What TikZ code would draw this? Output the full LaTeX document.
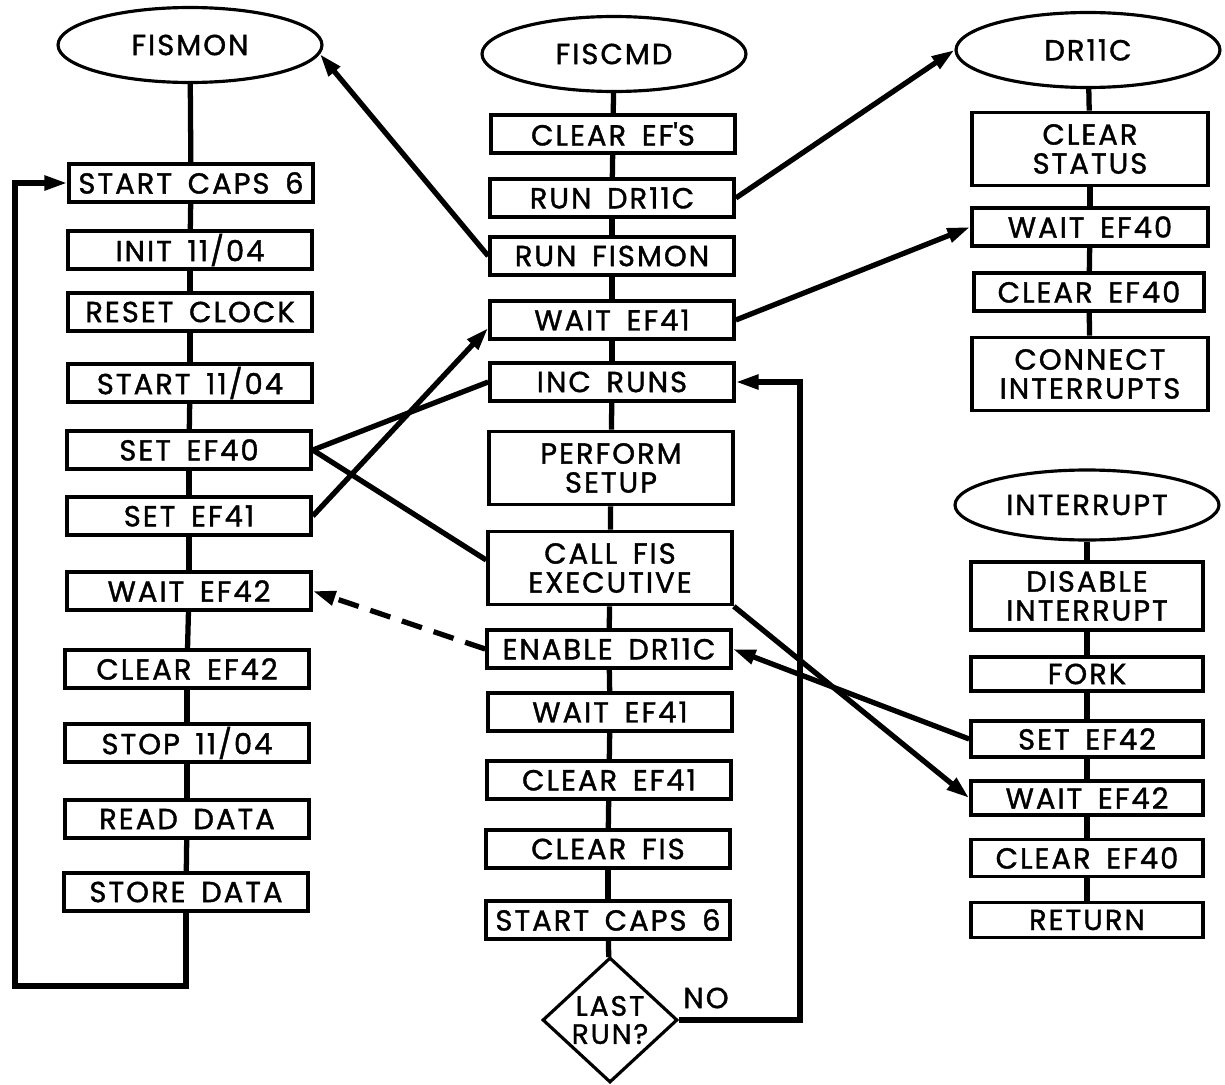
\documentclass[tikz,border=0pt]{standalone}
\usepackage{fontspec}
\setmainfont{Poppins}[LetterSpace=7,WordSpace=1.6,FakeBold=1.3]
\usetikzlibrary{shapes.geometric,arrows.meta,calc}

\tikzset{
  stepbox/.style={draw, line width=2.1pt, fill=white, minimum width=4.88cm,
    minimum height=0.76cm, inner sep=1pt, align=center,
    font=\fontsize{16.5}{16.5}\selectfont},
  tallbox/.style={stepbox, minimum height=1.46cm},
  progname/.style={draw, ellipse, line width=1.8pt, minimum width=5.28cm,
    minimum height=1.5cm, inner sep=0pt, font=\fontsize{16.5}{16.5}\selectfont},
  test/.style={draw, diamond, line width=1.8pt, minimum width=2.7cm,
    minimum height=2.5cm, inner sep=0pt, align=center,
    font=\fontsize{16}{16}\selectfont},
  link/.style={line width=3pt},
  flow/.style={line width=3pt, -{Triangle[length=13pt,width=8pt]}},
}

\begin{document}
\begin{tikzpicture}[x=0.02cm, y=-0.02cm]
  \useasboundingbox (0,0) rectangle (1225,1085);

  % FISMON
  \node[progname] (fismon) at (190,45) {FISMON};
  \node[stepbox] (capsa) at (191,183) {START CAPS 6};
  \node[stepbox] (init) at (190,250) {INIT 11/04};
  \node[stepbox] (resetclk) at (190,312) {RESET CLOCK};
  \node[stepbox] (startpdp) at (190,383) {START 11/04};
  \node[stepbox] (setforty) at (189,450) {SET EF40};
  \node[stepbox] (setfone) at (189,516) {SET EF41};
  \node[stepbox] (waitftwo) at (189,591) {WAIT EF42};
  \node[stepbox] (clrftwo) at (187,669) {CLEAR EF42};
  \node[stepbox] (stoppdp) at (187,743) {STOP 11/04};
  \node[stepbox] (readdat) at (187,819) {READ DATA};
  \node[stepbox] (storedat) at (186,892) {STORE DATA};
  \coordinate (loopa) at (186,986);
  \coordinate (loopb) at (15,986);
  \coordinate (loopc) at (15,183);

  % FISCMD
  \node[progname] (fiscmd) at (614,54) {FISCMD};
  \node[stepbox] (clrefs) at (613,134) {CLEAR EF\textquotesingle S};
  \node[stepbox] (rundr) at (612,198) {RUN DR11C};
  \node[stepbox] (runfis) at (612,256) {RUN FISMON};
  \node[stepbox] (waitfone) at (612,320) {WAIT EF41};
  \node[stepbox] (incruns) at (612,382) {INC RUNS};
  \node[tallbox] (perform) at (611,468) {PERFORM\\SETUP};
  \node[tallbox] (callfis) at (610,568) {CALL FIS\\EXECUTIVE};
  \node[stepbox] (enable) at (609,649) {ENABLE DR11C};
  \node[stepbox] (waitfonb) at (610,712) {WAIT EF41};
  \node[stepbox] (clrfone) at (609,780) {CLEAR EF41};
  \node[stepbox] (clrfis) at (608,849) {CLEAR FIS};
  \node[stepbox] (capsb) at (608,920) {START CAPS 6};
  \node[test] (lastrun) at (610,1020) {LAST\\RUN?};
  \node[font=\fontsize{16.5}{16.5}\selectfont] (no) at (706,998) {NO};
  \coordinate (loopd) at (800,1020);
  \coordinate (loope) at (800,382);

  % DR11C
  \node[progname] (dr) at (1088,50) {DR11C};
  \node[tallbox, minimum width=4.72cm] (clrstat) at (1090,149) {CLEAR\\STATUS};
  \node[stepbox, minimum width=4.72cm] (waitforty) at (1090,227) {WAIT EF40};
  \node[stepbox, minimum width=4.6cm] (clrforty) at (1089,292) {CLEAR EF40};
  \node[tallbox, minimum width=4.72cm] (connect) at (1090,374) {CONNECT\\INTERRUPTS};

  % INTERRUPT
  \node[progname, minimum height=1.4cm] (intr) at (1087,505) {INTERRUPT};
  \node[tallbox, minimum width=4.64cm, minimum height=1.36cm] (disable) at (1087,596) {DISABLE\\INTERRUPT};
  \node[stepbox, minimum width=4.64cm, minimum height=0.68cm] (fork) at (1087,674) {FORK};
  \node[stepbox, minimum width=4.64cm, minimum height=0.72cm] (setftwo) at (1087,739) {SET EF42};
  \node[stepbox, minimum width=4.64cm, minimum height=0.68cm] (iwait) at (1087,798) {WAIT EF42};
  \node[stepbox, minimum width=4.64cm, minimum height=0.74cm] (iclr) at (1087,858) {CLEAR EF40};
  \node[stepbox, minimum width=4.64cm, minimum height=0.7cm] (ret) at (1087,920) {RETURN};

  % straight runs
  \draw[link] (fismon) -- (capsa);
  \draw[link] (capsa) -- (init);
  \draw[link] (init) -- (resetclk);
  \draw[link] (resetclk) -- (startpdp);
  \draw[link] (startpdp) -- (setforty);
  \draw[link] (setforty) -- (setfone);
  \draw[link] (setfone) -- (waitftwo);
  \draw[link] (waitftwo) -- (clrftwo);
  \draw[link] (clrftwo) -- (stoppdp);
  \draw[link] (stoppdp) -- (readdat);
  \draw[link] (readdat) -- (storedat);
  \draw[flow] (storedat) -- (loopa) -- (loopb) -- (loopc) -- (capsa.west);

  \draw[link] (fiscmd) -- (clrefs);
  \draw[link] (clrefs) -- (rundr);
  \draw[link] (rundr) -- (runfis);
  \draw[link] (runfis) -- (waitfone);
  \draw[link] (waitfone) -- (incruns);
  \draw[link] (incruns) -- (perform);
  \draw[link] (perform) -- (callfis);
  \draw[link] (callfis) -- (enable);
  \draw[link] (enable) -- (waitfonb);
  \draw[link] (waitfonb) -- (clrfone);
  \draw[link] (clrfone) -- (clrfis);
  \draw[link] (clrfis) -- (capsb);
  \draw[link] (capsb) -- (lastrun);
  \draw[flow] (lastrun.east) -- (loopd) -- (loope) -- (incruns.east);

  \draw[link] (dr) -- (clrstat);
  \draw[link] (clrstat) -- (waitforty);
  \draw[link] (waitforty) -- (clrforty);
  \draw[link] (clrforty) -- (connect);

  \draw[link] (intr) -- (disable);
  \draw[link] (disable) -- (fork);
  \draw[link] (fork) -- (setftwo);
  \draw[link] (setftwo) -- (iwait);
  \draw[link] (iwait) -- (iclr);
  \draw[link] (iclr) -- (ret);

  % between tasks
  \draw[flow] (runfis.west) -- (fismon.-4);
  \draw[flow] (rundr.east) -- (dr.west);
  \draw[flow] (waitfone.east) -- (waitforty.west);
  \draw[link] (setforty.east) -- (incruns.west);
  \draw[link] (setforty.east) -- ($(callfis.west)+(0,-8)$);
  \draw[flow] (setfone.east) -- ($(waitfone.west)+(0,8)$);
  \draw[flow, dashed, dash pattern=on 12pt off 7pt] (enable.west) -- (waitftwo.east);
  \draw[flow] (callfis.south east) -- (iwait.west);
  \draw[flow] (setftwo.west) -- (enable.east);
\end{tikzpicture}
\end{document}
